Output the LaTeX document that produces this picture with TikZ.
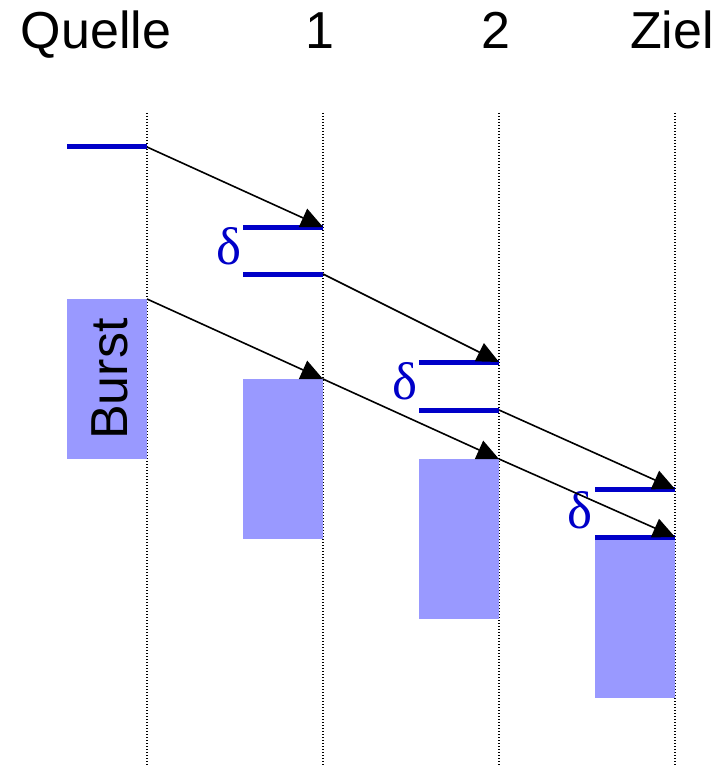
\documentclass[tikz,border=0pt]{standalone}
\usepackage{fontspec}
\setmainfont{Liberation Sans}
\newfontfamily\serifd{Liberation Serif}
\usetikzlibrary{arrows.meta}
\definecolor{barblue}{RGB}{0,0,200}
\definecolor{burstfill}{RGB}{153,153,255}
\tikzset{
  timeline/.style={black, line width=1.2pt, dash pattern=on 1.2pt off 1.8pt},
  pkt/.style={barblue, line width=5pt},
  burstbox/.style={fill=burstfill, draw=none},
  msg/.style={black, line width=1.6pt, -{Triangle[length=22pt,width=20pt]}},
  hdr/.style={font=\fontsize{52}{52}\selectfont, anchor=base},
  dlt/.style={barblue, font=\serifd\fontsize{53}{53}\selectfont, anchor=base}
}
\begin{document}
\begin{tikzpicture}[x=1pt,y=-1pt]
\useasboundingbox (0,0) rectangle (727,767);
% headers
\node[hdr] (hq) at (96,49) {Quelle};
\node[hdr] (h1) at (320,49) {1};
\node[hdr] (h2) at (496,49) {2};
\node[hdr] (hz) at (672,49) {Ziel};
% timelines
\coordinate (tq) at (147,113); \coordinate (bq) at (147,767);
\coordinate (t1) at (323,113); \coordinate (b1) at (323,767);
\coordinate (t2) at (499,113); \coordinate (b2) at (499,767);
\coordinate (tz) at (675,113); \coordinate (bz) at (675,767);
\draw[timeline] (tq) -- (bq);
\draw[timeline] (t1) -- (b1);
\draw[timeline] (t2) -- (b2);
\draw[timeline] (tz) -- (bz);
% burst boxes
\fill[burstbox] (67,299) rectangle (147,459);
\node[rotate=90, font=\fontsize{52}{52}\selectfont] (burst) at (110,379) {Burst};
\fill[burstbox] (243,379) rectangle (323,539);
\fill[burstbox] (419,459) rectangle (499,619);
\fill[burstbox] (595,537) rectangle (675,698);
% packet bars
\coordinate (pq0) at (147,147);
\coordinate (p1a) at (323,227); \coordinate (p1b) at (323,274);
\coordinate (p2a) at (499,362); \coordinate (p2b) at (499,410);
\coordinate (pza) at (675,489); \coordinate (pzb) at (675,537);
\draw[pkt] (67,147) -- (pq0);
\draw[pkt] (243,227) -- (p1a);
\draw[pkt] (243,274) -- (p1b);
\draw[pkt] (419,362) -- (p2a);
\draw[pkt] (419,410) -- (p2b);
\draw[pkt] (595,489) -- (pza);
\draw[pkt] (595,537) -- (pzb);
% burst corners
\coordinate (bq0) at (147,299);
\coordinate (b1c) at (323,379);
\coordinate (b2c) at (499,459);
% deltas
\node[dlt] (d1) at (229,264) {δ};
\node[dlt] (d2) at (405,399) {δ};
\node[dlt] (d3) at (580,528) {δ};
% message arrows
\draw[msg] (pq0) -- (p1a);
\draw[msg] (p1b) -- (p2a);
\draw[msg] (p2b) -- (pza);
\draw[msg] (bq0) -- (b1c);
\draw[msg] (b1c) -- (b2c);
\draw[msg] (b2c) -- (pzb);
\end{tikzpicture}
\end{document}
